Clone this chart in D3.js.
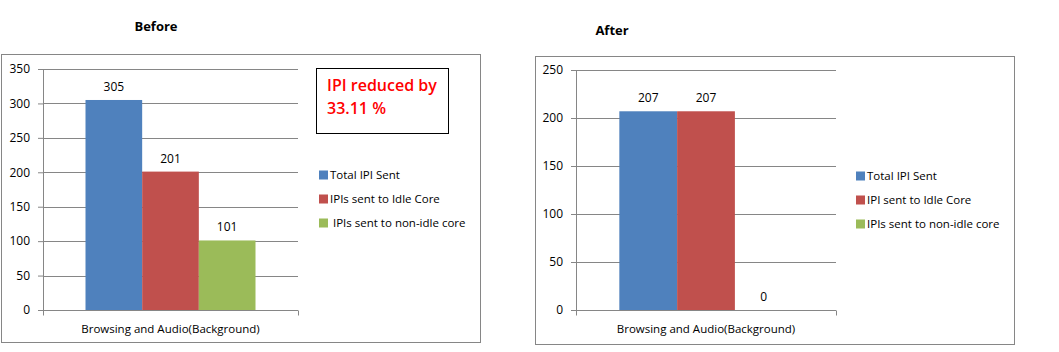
<!DOCTYPE html>
<html>
<head>
<meta charset="utf-8">
<script src="https://cdn.jsdelivr.net/npm/d3@7"></script>
<style>
  body { margin: 0; background: #fff; }
  text { font-family: "Open Sans", sans-serif; }
  .axis path, .axis line { stroke: #868686; }
  .axis text { font-size: 12px; fill: #000; }
</style>
</head>
<body>
<div id="graphId"></div>
<script>
var categories = ["Browsing and Audio(Background)"];

var beforeSeries = ["Total IPI Sent", "IPIs sent to Idle Core", " IPIs sent to non-idle core"];
var beforeValues = [305, 201, 101];
var beforeTicks = [0, 50, 100, 150, 200, 250, 300, 350];

var afterSeries = ["Total IPI Sent", "IPI sent to Idle Core", "IPIs sent to non-idle core"];
var afterValues = [207, 207, 0];
var afterTicks = [0, 50, 100, 150, 200, 250];

var colors = ["#4f81bd", "#c0504d", "#9bbb59"];
var note = ["IPI reduced by", "33.11 %"];

var wt = 1059;
var ht = 352;

var svg = d3.select("#graphId").append("svg")
    .attr("width", wt)
    .attr("height", ht);

var drawChart = function (cfg) {
    // outer frame
    svg.append("rect")
        .attr("x", cfg.frame[0] + 0.5)
        .attr("y", cfg.frame[1] + 0.5)
        .attr("width", cfg.frame[2] - cfg.frame[0])
        .attr("height", cfg.frame[3] - cfg.frame[1])
        .attr("fill", "#fff")
        .attr("stroke", "#868686");

    svg.append("text")
        .attr("x", cfg.titleX)
        .attr("y", cfg.titleY)
        .attr("text-anchor", "middle")
        .style("font-size", "13px")
        .style("font-weight", "bold")
        .text(cfg.title);

    var width = cfg.plot[2] - cfg.plot[0];
    var height = cfg.plot[3] - cfg.plot[1];
    var g = svg.append("g")
        .attr("transform", "translate(" + cfg.plot[0] + "," + cfg.plot[1] + ")");

    var y = d3.scaleLinear()
        .domain([0, d3.max(cfg.ticks)])
        .range([height, 0]);

    var x0 = d3.scaleBand()
        .domain(categories)
        .range([0, width])
        .paddingInner(0)
        .paddingOuter(0.25);

    var x1 = d3.scaleBand()
        .domain(cfg.series)
        .range([0, x0.bandwidth()]);

    // gridlines
    g.append("g")
        .selectAll("line")
        .data(cfg.ticks.slice(1))
        .enter().append("line")
        .attr("x1", 0)
        .attr("x2", width)
        .attr("y1", function (d) { return Math.round(y(d)) + 0.5; })
        .attr("y2", function (d) { return Math.round(y(d)) + 0.5; })
        .attr("stroke", "#868686");

    g.append("g")
        .attr("class", "axis axis--y")
        .call(d3.axisLeft(y).tickValues(cfg.ticks).tickSize(5).tickPadding(8).tickSizeOuter(0))
        .select(".domain").attr("stroke", "#868686");

    var bars = g.append("g")
        .selectAll("g")
        .data(categories)
        .enter().append("g")
        .attr("transform", function (d) { return "translate(" + x0(d) + ",0)"; });

    bars.selectAll("rect")
        .data(cfg.values)
        .enter().append("rect")
        .attr("x", function (d, i) { return x1(cfg.series[i]); })
        .attr("y", function (d) { return y(d); })
        .attr("width", x1.bandwidth())
        .attr("height", function (d) { return height - y(d); })
        .attr("fill", function (d, i) { return colors[i]; });

    bars.selectAll("text")
        .data(cfg.values)
        .enter().append("text")
        .attr("x", function (d, i) { return x1(cfg.series[i]) + x1.bandwidth() / 2; })
        .attr("y", function (d) { return y(d) - 9; })
        .attr("text-anchor", "middle")
        .style("font-size", "12px")
        .text(function (d) { return d; });

    // category axis with ticks at both ends
    var xa = g.append("g")
        .attr("class", "axis axis--x")
        .attr("transform", "translate(0," + (height + 0.5) + ")");
    xa.append("line")
        .attr("x1", 0).attr("x2", width);
    xa.selectAll("line.tk")
        .data([0, width])
        .enter().append("line")
        .attr("class", "tk")
        .attr("x1", function (d) { return d + 0.5; })
        .attr("x2", function (d) { return d + 0.5; })
        .attr("y1", 0).attr("y2", 5);
    xa.append("text")
        .attr("x", x0(categories[0]) + x0.bandwidth() / 2)
        .attr("y", 22)
        .attr("text-anchor", "middle")
        .style("font-size", "11.5px")
        .text(categories[0]);

    // legend
    var leg = svg.append("g")
        .attr("transform", "translate(" + cfg.legend[0] + "," + cfg.legend[1] + ")");
    var item = leg.selectAll("g")
        .data(cfg.series)
        .enter().append("g")
        .attr("transform", function (d, i) { return "translate(0," + (i * 24) + ")"; });
    item.append("rect")
        .attr("x", 0).attr("y", -4.5)
        .attr("width", 9).attr("height", 9)
        .attr("fill", function (d, i) { return colors[i]; });
    item.append("text")
        .attr("x", 11)
        .attr("y", 4)
        .attr("xml:space", "preserve")
        .style("font-size", "11.5px")
        .text(function (d) { return d; });

    return g;
};

drawChart({
    title: "Before", titleX: 156, titleY: 31,
    frame: [1, 54, 480, 342],
    plot: [43, 69, 298, 310],
    series: beforeSeries, values: beforeValues, ticks: beforeTicks,
    legend: [319, 175]
});

drawChart({
    title: "After", titleX: 612, titleY: 35,
    frame: [535, 56, 1014, 344],
    plot: [576, 70, 836, 310],
    series: afterSeries, values: afterValues, ticks: afterTicks,
    legend: [856, 176]
});

// annotation box
svg.append("rect")
    .attr("x", 316.5).attr("y", 68.5)
    .attr("width", 132).attr("height", 65)
    .attr("fill", "#fff")
    .attr("stroke", "#000");
svg.selectAll("text.note")
    .data(note)
    .enter().append("text")
    .attr("class", "note")
    .attr("x", 327)
    .attr("y", function (d, i) { return 91 + i * 22.5; })
    .attr("fill", "#ff0000")
    .style("font-size", "16px")
    .style("font-weight", "600")
    .text(function (d) { return d; });
</script>
</body>
</html>
